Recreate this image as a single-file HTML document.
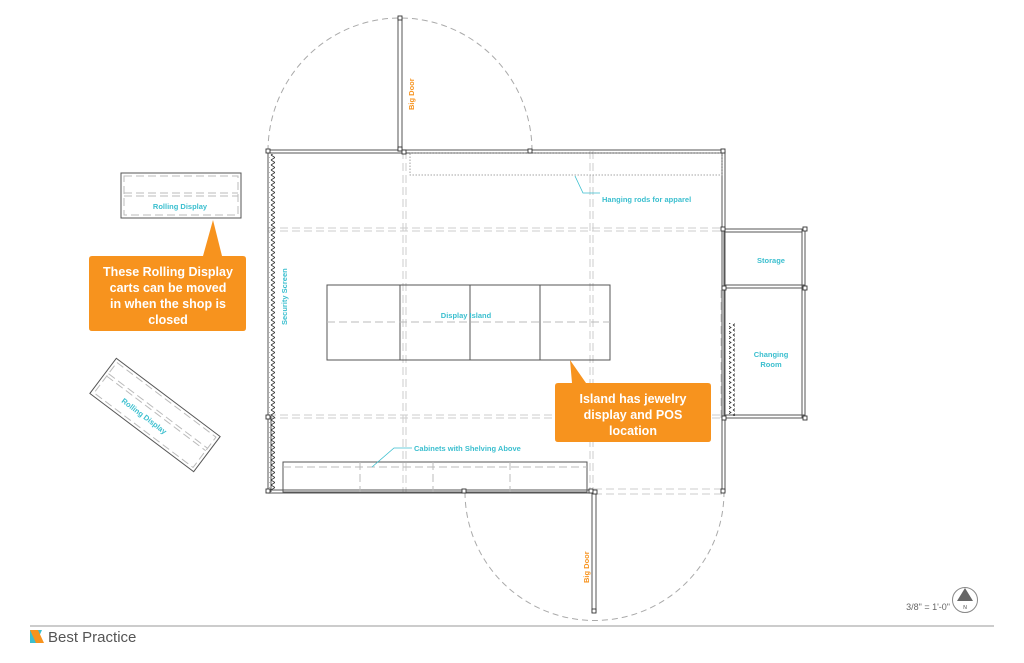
<!DOCTYPE html>
<html><head><meta charset="utf-8"><style>
html,body{margin:0;padding:0;background:#fff;}
svg{display:block;font-family:"Liberation Sans",sans-serif;}
.t{fill:#3bbfcf;font-size:7.5px;font-weight:bold;}
.o{fill:#f7931e;font-size:7.5px;font-weight:bold;}
.w{fill:#fff;font-size:12.5px;font-weight:bold;}
</style></head><body>
<svg width="1024" height="663" viewBox="0 0 1024 663" xmlns="http://www.w3.org/2000/svg">
<defs>
<pattern id="zz" x="0" y="0" width="6" height="5" patternUnits="userSpaceOnUse">
<path d="M1,0 L5,2.5 L1,5" fill="none" stroke="#333" stroke-width="0.8"/>
</pattern>
</defs>
<!-- door arcs -->
<path d="M268,151 A132,133 0 0 1 532,151" fill="none" stroke="#aaa" stroke-width="1" stroke-dasharray="6,4"/>
<path d="M465,492 A129,128 0 0 0 724,492" fill="none" stroke="#aaa" stroke-width="1" stroke-dasharray="6,4"/>
<!-- dashed grid -->
<g stroke="#ccc" stroke-width="1" stroke-dasharray="8,4" fill="none">
<line x1="268" y1="228" x2="724" y2="228"/><line x1="268" y1="231" x2="724" y2="231"/>
<line x1="268" y1="415" x2="724" y2="415"/><line x1="268" y1="418" x2="724" y2="418"/>
<line x1="403" y1="151" x2="403" y2="492"/><line x1="406" y1="151" x2="406" y2="492"/>
<line x1="590" y1="151" x2="590" y2="492"/><line x1="593" y1="151" x2="593" y2="492"/>
<line x1="594" y1="489" x2="724" y2="489"/><line x1="594" y1="494" x2="724" y2="494"/>
<line x1="721" y1="290" x2="721" y2="420"/>
</g>
<!-- walls -->
<g stroke="#555" stroke-width="1" fill="none">
<line x1="268" y1="150" x2="724" y2="150"/><line x1="268" y1="153" x2="724" y2="153"/>
<line x1="268" y1="490" x2="594" y2="490"/><line x1="268" y1="493" x2="594" y2="493"/>
<line x1="722" y1="151" x2="722" y2="492"/><line x1="725" y1="151" x2="725" y2="492"/>
<line x1="268" y1="151" x2="268" y2="492"/>
<line x1="268" y1="416" x2="268" y2="492"/><line x1="271" y1="416" x2="271" y2="492"/>
<rect x="398" y="18" width="4" height="133"/>
<rect x="592" y="492" width="4" height="120"/>
<rect x="724" y="229" width="81" height="59"/>
<rect x="724" y="288" width="81" height="130"/>
<line x1="724" y1="232" x2="802" y2="232"/><line x1="802" y1="229" x2="802" y2="418"/>
<line x1="724" y1="285" x2="805" y2="285"/><line x1="724" y1="415" x2="805" y2="415"/>
<rect x="327" y="285" width="283" height="75"/>
<line x1="400" y1="285" x2="400" y2="360"/><line x1="470" y1="285" x2="470" y2="360"/><line x1="540" y1="285" x2="540" y2="360"/>
<rect x="283" y="462" width="304" height="30"/>
<rect x="121" y="173" width="120" height="45"/>
</g>
<g stroke="#bbb" stroke-width="1" stroke-dasharray="8,4" fill="none">
<line x1="327" y1="322" x2="610" y2="322"/>
<line x1="283" y1="467" x2="587" y2="467"/>
<line x1="360" y1="462" x2="360" y2="492"/><line x1="433" y1="462" x2="433" y2="492"/><line x1="510" y1="462" x2="510" y2="492"/>
<rect x="124" y="176" width="114" height="39"/>
<line x1="124" y1="193" x2="238" y2="193"/><line x1="124" y1="196" x2="238" y2="196"/>
</g>
<rect x="410" y="153" width="312" height="22" fill="none" stroke="#888" stroke-width="0.8" stroke-dasharray="1.5,1.5"/>
<!-- zigzags -->
<rect x="269" y="154" width="6" height="336" fill="url(#zz)"/>
<rect x="729" y="323" width="6" height="93" fill="url(#zz)"/>
<!-- posts -->
<g fill="#fff" stroke="#333" stroke-width="0.9">
<rect x="266" y="149" width="4" height="4"/><rect x="398" y="16" width="4" height="4"/><rect x="398" y="147" width="4" height="4"/><rect x="402" y="150" width="4" height="4"/>
<rect x="528" y="149" width="4" height="4"/><rect x="721" y="149" width="4" height="4"/><rect x="721" y="227" width="4" height="4"/>
<rect x="803" y="227" width="4" height="4"/><rect x="722" y="286" width="4" height="4"/><rect x="803" y="286" width="4" height="4"/>
<rect x="722" y="416" width="4" height="4"/><rect x="803" y="416" width="4" height="4"/>
<rect x="266" y="415" width="4" height="4"/><rect x="266" y="489" width="4" height="4"/><rect x="462" y="489" width="4" height="4"/>
<rect x="589" y="489" width="4" height="4"/><rect x="593" y="490" width="4" height="4"/><rect x="721" y="489" width="4" height="4"/>
<rect x="592" y="609" width="4" height="4"/>
</g>
<!-- rotated rolling display -->
<g transform="translate(155,415) rotate(37)">
<rect x="-65" y="-22" width="130" height="44" fill="none" stroke="#555"/>
<rect x="-62" y="-19" width="124" height="38" fill="none" stroke="#bbb" stroke-dasharray="8,4"/>
<line x1="-62" y1="-5" x2="62" y2="-5" stroke="#bbb" stroke-dasharray="8,4"/>
<line x1="-62" y1="-2" x2="62" y2="-2" stroke="#bbb" stroke-dasharray="8,4"/>
<text class="t" x="-8" y="10" text-anchor="middle">Rolling Display</text>
</g>
<!-- leaders -->
<polyline points="575,176 583,193 600,193" fill="none" stroke="#3bbfcf" stroke-width="0.8"/>
<polyline points="372,467 394,448 412,448" fill="none" stroke="#3bbfcf" stroke-width="0.8"/>
<!-- labels -->
<text class="t" x="180" y="209" text-anchor="middle">Rolling Display</text>
<text class="t" x="602" y="202">Hanging rods for apparel</text>
<text class="t" x="466" y="318" text-anchor="middle">Display Island</text>
<text class="t" x="414" y="451">Cabinets with Shelving Above</text>
<text class="t" x="771" y="263" text-anchor="middle">Storage</text>
<text class="t" x="771" y="357" text-anchor="middle">Changing</text>
<text class="t" x="771" y="367" text-anchor="middle">Room</text>
<text class="t" transform="translate(287,325) rotate(-90)">Security Screen</text>
<text class="o" transform="translate(414,110) rotate(-90)">Big Door</text>
<text class="o" transform="translate(589,583) rotate(-90)">Big Door</text>
<!-- callouts -->
<path d="M92,256 H203 L213,220 L222,256 H243 Q246,256 246,259 V328 Q246,331 243,331 H92 Q89,331 89,328 V259 Q89,256 92,256Z" fill="#f7931e"/>
<text class="w" x="168" y="276" text-anchor="middle">These Rolling Display</text>
<text class="w" x="168" y="292" text-anchor="middle">carts can be moved</text>
<text class="w" x="168" y="308" text-anchor="middle">in when the shop is</text>
<text class="w" x="168" y="324" text-anchor="middle">closed</text>
<path d="M558,383 H572 L570,360 L586,383 H708 Q711,383 711,386 V439 Q711,442 708,442 H558 Q555,442 555,439 V386 Q555,383 558,383Z" fill="#f7931e"/>
<text class="w" x="633" y="403" text-anchor="middle">Island has jewelry</text>
<text class="w" x="633" y="419" text-anchor="middle">display and POS</text>
<text class="w" x="633" y="435" text-anchor="middle">location</text>
<!-- scale & north -->
<text x="950" y="610" text-anchor="end" font-size="9" fill="#666">3/8" = 1'-0"</text>
<circle cx="965" cy="600" r="12.5" fill="#fff" stroke="#888"/>
<path d="M957,601 L965,588 L973,601Z" fill="#666"/>
<text x="965" y="609" text-anchor="middle" font-size="5" fill="#444">N</text>
<!-- footer -->
<line x1="30" y1="626" x2="994" y2="626" stroke="#999" stroke-width="1"/>
<path d="M30,630 L42,630 L36,643 L30,643Z" fill="#3bbfcf"/>
<path d="M30,630 L38,630 L44,643 L36,643Z" fill="#f7931e"/>
<text x="48" y="642" font-size="15" fill="#555">Best Practice</text>
</svg>
</body></html>
